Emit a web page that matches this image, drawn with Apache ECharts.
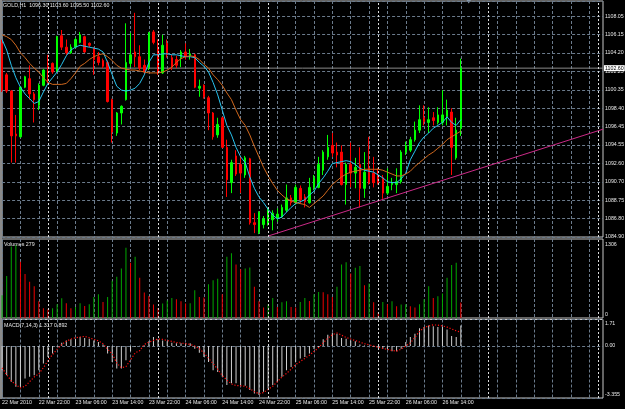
<!DOCTYPE html>
<html>
<head>
<meta charset="utf-8">
<title>GOLD,H1</title>
<script src="https://cdn.jsdelivr.net/npm/echarts@6/dist/echarts.min.js"></script>
<style>
  html, body { margin: 0; padding: 0; background: #000; }
  #main { width: 625px; height: 409px; }
</style>
</head>
<body>
<div id="main"></div>
<script>
// time axis labels, one every 8 bars
var timeLabels = ['22 Mar 2010', '22 Mar 22:00', '23 Mar 06:00', '23 Mar 14:00', '23 Mar 22:00',
  '24 Mar 06:00', '24 Mar 14:00', '24 Mar 22:00', '25 Mar 06:00', '25 Mar 14:00',
  '25 Mar 22:00', '26 Mar 06:00', '26 Mar 14:00'];
var priceLabels = ['1084.90', '1086.80', '1088.75', '1090.70', '1092.60', '1094.55', '1096.45',
  '1098.40', '1100.35', '1102.25', '1104.20', '1106.15', '1108.05'];

// H1 candles
var opens = [1105.2,1101.9,1100.2,1095.7,1095.4,1100.6,1101.5,1099.9,1098.7,1100.8,
  1102.8,1103.1,1102.3,1106.0,1104.8,1104.2,1104.8,1105.3,1105.9,1105.2,
  1104.7,1103.8,1103.4,1103.2,1099.3,1095.8,1097.9,1099.3,1103.1,1104.3,
  1103.8,1102.9,1102.7,1106.4,1104.8,1102.1,1105.2,1103.7,1103.5,1103.7,
  1104.3,1103.9,1104.0,1100.5,1100.8,1099.5,1097.9,1095.6,1097.4,1094.3,
  1090.6,1093.4,1092.5,1091.4,1093.1,1086.4,1085.4,1086.2,1086.2,1086.7,
  1086.9,1087.0,1087.7,1089.0,1088.5,1090.0,1089.1,1088.5,1090.1,1090.1,
  1091.9,1093.3,1094.5,1093.8,1093.8,1090.4,1092.5,1091.6,1092.5,1090.0,
  1092.1,1091.6,1091.3,1091.1,1089.5,1090.4,1090.4,1090.7,1093.8,1094.0,
  1095.1,1096.1,1097.4,1096.9,1097.4,1096.9,1096.9,1097.5,1098.0,1093.2,
  1096.3];
var closes = [1100.3,1100.2,1095.5,1095.5,1100.6,1101.7,1099.9,1099.3,1100.8,1102.4,
  1102.7,1102.2,1105.9,1104.8,1104.2,1104.8,1105.6,1106.1,1104.3,1105.0,
  1103.5,1103.2,1102.8,1099.1,1095.9,1097.9,1098.6,1103.2,1104.0,1103.8,
  1102.6,1102.2,1106.3,1105.3,1102.1,1105.0,1104.0,1102.7,1102.9,1104.3,
  1103.8,1104.1,1100.6,1100.7,1099.6,1097.9,1095.4,1096.7,1094.3,1090.9,
  1092.7,1091.5,1091.6,1093.2,1086.4,1086.2,1087.5,1086.8,1087.8,1087.4,
  1087.3,1088.0,1089.0,1088.5,1090.1,1088.8,1088.6,1090.1,1091.1,1092.5,
  1093.8,1094.3,1093.7,1093.5,1090.4,1092.5,1091.6,1092.2,1090.0,1091.7,
  1090.6,1090.6,1090.6,1089.5,1090.2,1090.6,1090.7,1093.8,1094.5,1095.1,
  1096.1,1097.2,1097.0,1097.2,1097.1,1097.7,1097.7,1098.2,1094.3,1096.1,
  1102.6];
var lows = [1100.1,1100.0,1092.7,1092.7,1095.3,1100.5,1099.3,1096.9,1098.2,1100.7,
  1101.0,1102.0,1102.2,1104.5,1104.0,1104.1,1104.7,1105.2,1104.2,1104.8,
  1101.9,1102.9,1102.6,1099.0,1094.8,1095.5,1096.7,1099.2,1102.7,1102.7,
  1102.4,1102.0,1102.4,1105.1,1101.9,1102.0,1103.7,1102.4,1102.6,1102.7,
  1103.5,1103.5,1100.5,1099.6,1099.4,1096.1,1095.1,1095.3,1094.2,1089.1,
  1089.5,1091.3,1089.5,1091.1,1086.2,1085.3,1085.2,1085.8,1086.1,1085.6,
  1086.5,1086.9,1087.5,1088.2,1088.3,1088.4,1088.0,1088.4,1089.8,1090.0,
  1091.4,1093.0,1093.3,1092.2,1090.3,1088.3,1090.1,1090.0,1088.0,1089.0,
  1090.4,1090.1,1090.4,1088.9,1089.3,1089.8,1089.5,1090.5,1093.5,1093.8,
  1094.9,1095.8,1096.6,1095.8,1096.6,1096.7,1096.6,1096.6,1091.4,1093.0,
  1095.5];
var highs = [1105.6,1102.1,1100.3,1097.7,1100.7,1101.8,1102.9,1100.1,1101.0,1102.5,
  1104.0,1103.2,1106.0,1106.6,1105.6,1105.1,1105.8,1106.4,1106.0,1105.3,
  1104.8,1104.3,1103.6,1103.4,1099.4,1098.0,1098.7,1107.3,1106.3,1108.4,
  1105.0,1103.5,1106.4,1106.6,1105.6,1106.1,1105.6,1104.0,1103.9,1104.5,
  1105.2,1104.6,1104.1,1101.4,1100.9,1099.7,1098.0,1097.4,1097.5,1095.1,
  1093.0,1094.0,1093.3,1093.4,1093.2,1087.4,1087.6,1087.1,1088.0,1087.7,
  1087.9,1088.3,1090.4,1089.3,1090.4,1090.3,1089.4,1091.1,1091.4,1093.3,
  1094.0,1095.6,1095.8,1094.8,1094.5,1092.7,1094.8,1093.2,1094.3,1093.8,
  1095.4,1093.3,1092.1,1091.4,1092.1,1091.1,1092.1,1094.0,1094.9,1095.4,
  1097.0,1098.7,1098.7,1098.5,1098.0,1098.5,1100.3,1099.3,1098.4,1097.4,
  1103.6];

// moving averages
var maFast = [1105.6,1104.5,1102.9,1101.6,1100.6,1099.9,1099.4,1098.9,1099.1,1100.1,
  1101.0,1101.6,1102.2,1103.0,1103.9,1104.5,1104.8,1105.0,1104.9,1104.8,
  1104.7,1104.6,1104.3,1103.2,1101.9,1100.7,1100.3,1100.2,1100.3,1100.5,
  1101.0,1101.9,1103.2,1104.0,1104.0,1104.1,1104.1,1104.0,1104.0,1103.9,
  1103.8,1103.8,1103.7,1103.2,1102.8,1102.2,1101.1,1099.8,1098.2,1096.6,
  1095.6,1094.3,1093.3,1092.7,1091.2,1090.0,1089.1,1088.5,1087.8,1087.2,
  1086.8,1087.0,1087.5,1088.0,1088.4,1088.6,1088.8,1089.3,1089.7,1090.5,
  1091.1,1091.8,1092.6,1092.7,1092.8,1092.9,1092.8,1092.5,1092.1,1091.9,
  1091.8,1091.7,1091.4,1091.1,1090.7,1090.6,1090.6,1091.0,1091.6,1093.0,
  1093.9,1094.8,1095.4,1095.8,1096.3,1096.6,1096.9,1097.5,1096.9,1096.6,
  1097.2];
var maSlow = [1106.1,1105.9,1105.6,1105.0,1104.2,1103.7,1103.1,1102.6,1102.2,1101.6,
  1101.1,1100.9,1100.9,1100.9,1101.0,1101.5,1102.1,1102.8,1103.1,1103.5,
  1103.8,1104.0,1104.1,1103.8,1103.4,1102.9,1102.6,1102.5,1102.4,1102.4,
  1102.3,1102.2,1102.1,1102.1,1102.1,1102.2,1102.4,1102.7,1103.2,1103.6,
  1103.8,1103.9,1103.8,1103.5,1103.0,1102.6,1101.9,1101.4,1100.8,1100.0,
  1099.3,1098.2,1097.2,1096.6,1095.6,1094.4,1093.3,1092.2,1091.3,1090.5,
  1089.8,1089.3,1088.9,1088.7,1088.5,1088.4,1088.3,1088.0,1088.4,1088.8,
  1089.2,1089.8,1090.4,1090.8,1091.2,1091.5,1091.7,1091.8,1091.9,1092.0,
  1092.0,1092.0,1092.0,1091.9,1091.7,1091.5,1091.3,1091.3,1091.5,1091.8,
  1092.3,1092.7,1093.1,1093.5,1093.8,1094.2,1094.6,1095.1,1095.4,1095.7,
  1096.0];

var volumes = [408,749,1280,1306,1006,785,647,569,300,174,
  156,174,246,354,264,174,198,264,216,246,
  377,426,287,377,665,736,887,1257,988,1096,
  718,456,395,241,180,259,313,359,336,300,
  259,262,497,377,366,605,677,700,426,1096,
  1157,959,870,887,905,557,300,187,246,359,
  198,282,300,198,187,287,359,305,426,467,
  460,426,377,557,959,995,797,898,929,587,
  618,282,97,287,246,300,210,241,246,210,
  187,246,336,569,359,390,438,718,946,988,
  279];

var macdMain = [-1.56,-1.88,-2.31,-2.63,-2.63,-2.09,-1.99,-1.88,-1.56,-1.13,
  -0.71,-0.49,-0.06,0.21,0.36,0.43,0.47,0.58,0.51,0.47,
  0.36,0.26,0.09,-0.49,-1.03,-1.45,-1.45,-0.92,-0.34,-0.06,
  0.02,0.04,0.30,0.58,0.43,0.36,0.30,0.21,0.17,0.17,
  0.17,0.17,-0.17,-0.43,-0.71,-1.03,-1.56,-1.67,-1.99,-2.52,
  -2.41,-2.41,-2.52,-2.56,-2.84,-3.06,-3.16,-2.95,-2.74,-2.52,
  -2.31,-1.99,-1.56,-1.35,-1.03,-0.81,-0.71,-0.49,-0.20,-0.06,
  0.43,0.73,0.85,0.79,0.51,0.47,0.36,0.30,0.09,0.04,
  0.00,-0.06,-0.13,-0.17,-0.21,-0.34,-0.34,-0.17,0.26,0.58,
  0.79,1.15,1.22,1.32,1.28,1.22,1.22,1.07,0.64,0.58,
  1.317];
var macdSignal = [-1.41,-1.85,-2.25,-2.5,-2.7,-2.6,-2.3,-2.0,-1.8,-1.4,
  -0.95,-0.55,-0.2,0.1,0.3,0.45,0.53,0.58,0.62,0.53,
  0.43,0.33,0.15,-0.2,-0.5,-1.1,-1.4,-1.33,-0.9,-0.45,
  -0.3,0.1,0.25,0.36,0.45,0.43,0.35,0.3,0.22,0.19,
  0.15,0.1,0.0,-0.17,-0.45,-0.8,-1.13,-1.5,-1.9,-2.2,
  -2.45,-2.55,-2.56,-2.6,-2.75,-2.95,-3.08,-3.0,-2.8,-2.6,
  -2.3,-2.0,-1.77,-1.5,-1.2,-1.0,-0.8,-0.6,-0.35,-0.1,
  0.2,0.5,0.73,0.84,0.7,0.55,0.45,0.35,0.25,0.15,
  0.07,0.0,-0.08,-0.15,-0.22,-0.28,-0.33,-0.2,0.0,0.2,
  0.55,0.95,1.18,1.3,1.36,1.35,1.3,1.22,1.1,0.98,
  0.892];

var daySeparators = [10, 34, 58, 82, 106, 130];
var trendLine = [[58, 1085.0], [131, 1096.2]];
var bidPrice = 1102.60;
var barCount = 132;

var textColor = '#e6e6e6';
var gridColor = '#6b7b8c';
var fontFamily = 'Liberation Sans, Arial, sans-serif';
var fs = 5.3;

var priceMin = 1084.90, priceStep = 1.929, priceMax = 1109.64;

var bars = [];
for (var i = 0; i < barCount; i++) bars.push('b' + i);

var candles = opens.map(function (o, i) { return [o, closes[i], lows[i], highs[i]]; });

var volumeData = volumes.map(function (v, i) {
  var up = i === 0 || v > volumes[i - 1];
  return { value: v, itemStyle: { color: up ? '#00a800' : '#f00000' } };
});

// bid line runs across the whole pane
var bidLine = [[0, bidPrice], [barCount - 1, bidPrice]];

var myChart = echarts.init(document.getElementById('main'));

function xAxisFor(gi, showLabels) {
  return {
    type: 'category', gridIndex: gi, data: bars, boundaryGap: false,
    axisLine: { show: false }, axisTick: { show: false },
    axisLabel: showLabels ? {
      show: true, align: 'left', margin: 2,
      color: textColor, fontSize: fs, fontFamily: fontFamily,
      interval: function (idx) { return idx % 8 === 0 && idx / 8 < timeLabels.length; },
      formatter: function (v, idx) { return timeLabels[idx / 8] || ''; }
    } : { show: false },
    splitLine: {
      show: true,
      interval: function (idx) { return idx % 4 === 0; },
      lineStyle: { color: gridColor, type: [3, 2], width: 1 }
    }
  };
}

// period separators (midnight)
function separators(gi) {
  return {
    type: 'line', xAxisIndex: gi, yAxisIndex: gi, data: [], silent: true, z: 1,
    markLine: {
      silent: true, symbol: ['none', 'none'], animation: false,
      label: { show: false },
      lineStyle: { color: '#dcdcdc', type: [2, 2], width: 1 },
      data: daySeparators.map(function (k) { return { xAxis: k }; })
    }
  };
}

var labelBase = { color: textColor, fontSize: fs, fontFamily: fontFamily };
var rich = {
  t: { color: textColor, fontSize: fs, fontFamily: fontFamily, padding: [9, 0, 0, 0] },
  b: { color: textColor, fontSize: fs, fontFamily: fontFamily, padding: [0, 0, 7, 0] }
};

option = {
  backgroundColor: '#000',
  animation: false,
  textStyle: { fontFamily: fontFamily },
  title: [
    { text: 'GOLD,H1  1096.30 1103.60 1095.50 1102.60', left: 3, top: 3, padding: 0,
      textStyle: { color: textColor, fontSize: fs, fontWeight: 'normal', fontFamily: fontFamily } },
    { text: 'Volumes 279', left: 4, top: 242.3, padding: 0,
      textStyle: { color: textColor, fontSize: fs, fontWeight: 'normal', fontFamily: fontFamily } },
    { text: 'MACD(7,14,3) 1.317 0.892', left: 4, top: 323, padding: 0,
      textStyle: { color: textColor, fontSize: fs, fontWeight: 'normal', fontFamily: fontFamily } }
  ],
  grid: [
    { left: 2.1, top: 1, width: 600.9, height: 236, show: true, borderColor: '#c8c8c8', borderWidth: 1, outerBoundsMode: 'none' },
    { left: 2.1, top: 239, width: 600.9, height: 79, show: true, borderColor: '#c8c8c8', borderWidth: 1, outerBoundsMode: 'none' },
    { left: 2.1, top: 319.5, width: 600.9, height: 78.5, show: true, borderColor: '#c8c8c8', borderWidth: 1, outerBoundsMode: 'none' }
  ],
  xAxis: [xAxisFor(0, false), xAxisFor(1, false), xAxisFor(2, true)],
  yAxis: [
    {
      type: 'value', gridIndex: 0, position: 'right', min: priceMin, max: priceMax, interval: priceStep,
      axisLine: { show: false }, axisTick: { show: false },
      splitLine: { show: true, lineStyle: { color: gridColor, type: [3, 2], width: 1 } },
      axisLabel: Object.assign({ margin: 2, showMaxLabel: false,
        formatter: function (v) {
          var i = Math.round((v - priceMin) / priceStep);
          if (Math.abs(v - (priceMin + i * priceStep)) > 0.01) return '';
          return priceLabels[i] || '';
        } }, labelBase)
    },
    {
      type: 'value', gridIndex: 1, position: 'right', min: 0, max: 1413, interval: 1306,
      axisLine: { show: false }, axisTick: { show: false }, splitLine: { show: false },
      axisLabel: Object.assign({ margin: 2, rich: rich,
        formatter: function (v) {
          if (v === 0) return '{b|0}';
          if (v === 1306) return '1306';
          return '';
        } }, labelBase)
    },
    {
      type: 'value', gridIndex: 2, position: 'right', min: -3.355, max: 1.71, interval: 3.355,
      axisLine: { show: false }, axisTick: { show: false },
      splitLine: { show: true, lineStyle: { color: gridColor, type: [3, 2], width: 1 } },
      axisLabel: Object.assign({ margin: 2, rich: rich,
        formatter: function (v) {
          if (Math.abs(v + 3.355) < 1e-6) return '{b|-3.355}';
          if (Math.abs(v) < 1e-6) return '0.00';
          if (Math.abs(v - 1.71) < 1e-6) return '{t|1.71}';
          return '';
        } }, labelBase)
    }
  ],
  graphic: [
    { type: 'rect', shape: { x: 0, y: 0, width: 2, height: 399 }, style: { fill: '#8a8a8a' }, silent: true },
    { type: 'polygon', shape: { points: [[466.5, 0], [471, 0], [468.75, 3.5]] }, style: { fill: '#8898aa' }, silent: true }
  ],
  series: [
    separators(0),
    separators(1),
    separators(2),
    {
      name: 'bid', type: 'line', xAxisIndex: 0, yAxisIndex: 0, data: bidLine, silent: true, z: 1,
      showSymbol: false, symbol: 'none',
      lineStyle: { color: '#8a8a8a', width: 1 },
      endLabel: {
        show: true, distance: 1, formatter: bidPrice.toFixed(2),
        color: '#000', backgroundColor: '#fff', fontSize: fs, fontFamily: fontFamily, padding: [1, 1, 0, 1]
      }
    },
    {
      name: 'GOLD', type: 'candlestick', xAxisIndex: 0, yAxisIndex: 0, data: candles,
      barWidth: 2,
      itemStyle: { color: '#00ff00', color0: '#ff0000', borderColor: '#00ff00', borderColor0: '#ff0000', borderWidth: 1 }
    },
    {
      name: 'MA fast', type: 'line', xAxisIndex: 0, yAxisIndex: 0, data: maFast,
      showSymbol: false, symbol: 'none', silent: true,
      lineStyle: { color: '#28c4f0', width: 1 }
    },
    {
      name: 'MA slow', type: 'line', xAxisIndex: 0, yAxisIndex: 0, data: maSlow,
      showSymbol: false, symbol: 'none', silent: true,
      lineStyle: { color: '#d2691e', width: 1 }
    },
    {
      name: 'trend', type: 'line', xAxisIndex: 0, yAxisIndex: 0, data: trendLine,
      showSymbol: false, symbol: 'none', silent: true,
      lineStyle: { color: '#cc2a88', width: 1 }
    },
    {
      name: 'Volumes', type: 'bar', xAxisIndex: 1, yAxisIndex: 1, data: volumeData,
      barWidth: 1, silent: true
    },
    {
      name: 'MACD', type: 'bar', xAxisIndex: 2, yAxisIndex: 2, data: macdMain,
      barWidth: 1, silent: true, itemStyle: { color: '#d0d0d0' }
    },
    {
      name: 'Signal', type: 'line', xAxisIndex: 2, yAxisIndex: 2, data: macdSignal,
      showSymbol: false, symbol: 'none', silent: true, z: 3,
      lineStyle: { color: '#ff1010', width: 1.2, type: [1.2, 1.8] }
    }
  ]
};

myChart.setOption(option);
</script>
</body>
</html>
